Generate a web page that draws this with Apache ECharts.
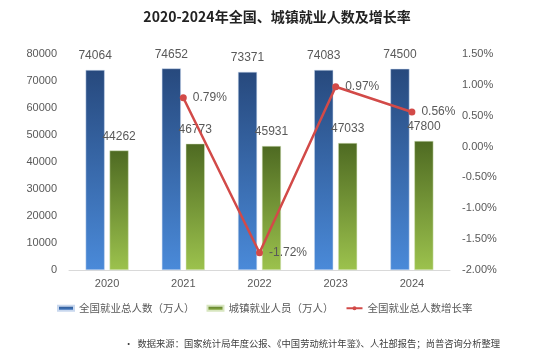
<!DOCTYPE html>
<html><head><meta charset="utf-8">
<script src="https://cdn.jsdelivr.net/npm/echarts@6/dist/echarts.min.js"></script>
<style>html,body{margin:0;padding:0;background:#fff}#c{width:554px;height:360px}</style>
</head><body><div id="c"></div>
<script>
var years = ['2020','2021','2022','2023','2024'];
var totalEmp = [74064, 74652, 73371, 74083, 74500];
var urbanEmp = [44262, 46773, 45931, 47033, 47800];
var growthRate = [null, 0.79, -1.72, 0.97, 0.56];
var leftTicks = [0, 80000, 10000];
var rightTicks = [-2, 1.5, 0.5];

var chart = echarts.init(document.getElementById('c'));
var font = 'Liberation Sans, Arial, "Noto Sans CJK SC", sans-serif';
chart.setOption({
  animation: false,
  title: {
    text: '2020-2024年全国、城镇就业人数及增长率',
    left: 'center', top: 5,
    textStyle: {fontSize: 14, fontWeight: 'bold', color: '#222', fontFamily: '"Noto Sans CJK SC", sans-serif'}
  },
  legend: {
    left: 52, top: 298, itemGap: 12, itemWidth: 16, itemHeight: 5,
    textStyle: {fontSize: 10.5, color: '#595959', fontFamily: '"Noto Sans CJK SC", sans-serif'},
    data: [
      {name: '全国就业总人数（万人）', icon: 'rect'},
      {name: '城镇就业人员（万人）', icon: 'rect'},
      {name: '全国就业总人数增长率'}
    ]
  },
  grid: {left: 69, right: 104, top: 54, bottom: 90},
  xAxis: {
    type: 'category', data: years,
    axisLine: {lineStyle: {color: '#d9d9d9'}},
    axisTick: {show: false},
    axisLabel: {color: '#595959', fontSize: 11, margin: 8, fontFamily: font}
  },
  yAxis: [{
    type: 'value', min: leftTicks[0], max: leftTicks[1], interval: leftTicks[2],
    splitLine: {show: false},
    axisLine: {show: false}, axisTick: {show: false},
    axisLabel: {color: '#595959', fontSize: 11, margin: 12, fontFamily: font,
      formatter: function(v){ return String(v); }}
  }, {
    type: 'value', min: rightTicks[0], max: rightTicks[1], interval: rightTicks[2],
    splitLine: {show: false},
    axisLine: {show: false}, axisTick: {show: false},
    axisLabel: {color: '#595959', fontSize: 11, margin: 12, fontFamily: font,
      formatter: function(v){ return v.toFixed(2) + '%'; }}
  }],
  series: [{
    name: '全国就业总人数（万人）', type: 'bar', data: totalEmp,
    barWidth: 19, barGap: '26%',
    itemStyle: {
      color: new echarts.graphic.LinearGradient(0,0,0,1,[{offset:0,color:'#27497d'},{offset:1,color:'#4a8ad9'}]),
      borderColor: '#c9d8ee', borderWidth: 0.5
    },
    label: {show: true, position: 'top', distance: 8, color: '#595959', fontSize: 12, fontFamily: font}
  }, {
    name: '城镇就业人员（万人）', type: 'bar', data: urbanEmp,
    barWidth: 19,
    itemStyle: {
      color: new echarts.graphic.LinearGradient(0,0,0,1,[{offset:0,color:'#4e6a22'},{offset:1,color:'#9cc24d'}]),
      borderColor: '#d8e6c0', borderWidth: 0.5
    },
    label: {show: true, position: 'top', distance: 8, color: '#595959', fontSize: 12, fontFamily: font}
  }, {
    name: '全国就业总人数增长率', type: 'line', yAxisIndex: 1, data: growthRate,
    connectNulls: false,
    symbol: 'circle', symbolSize: 7,
    lineStyle: {color: '#d24a48', width: 2.5},
    itemStyle: {color: '#d24a48'},
    label: {show: true, position: 'right', distance: 6, color: '#595959', fontSize: 12, fontFamily: font,
      formatter: function(p){ return p.value.toFixed(2) + '%'; }}
  }],
  graphic: [{
    type: 'text', left: 124, top: 339,
    style: {text: '•  数据来源：国家统计局年度公报、《中国劳动统计年鉴》、人社部报告；尚普咨询分析整理',
      fontSize: 9.3, fill: '#404040', fontFamily: '"Noto Sans CJK SC", sans-serif'}
  }]
});
</script></body></html>
